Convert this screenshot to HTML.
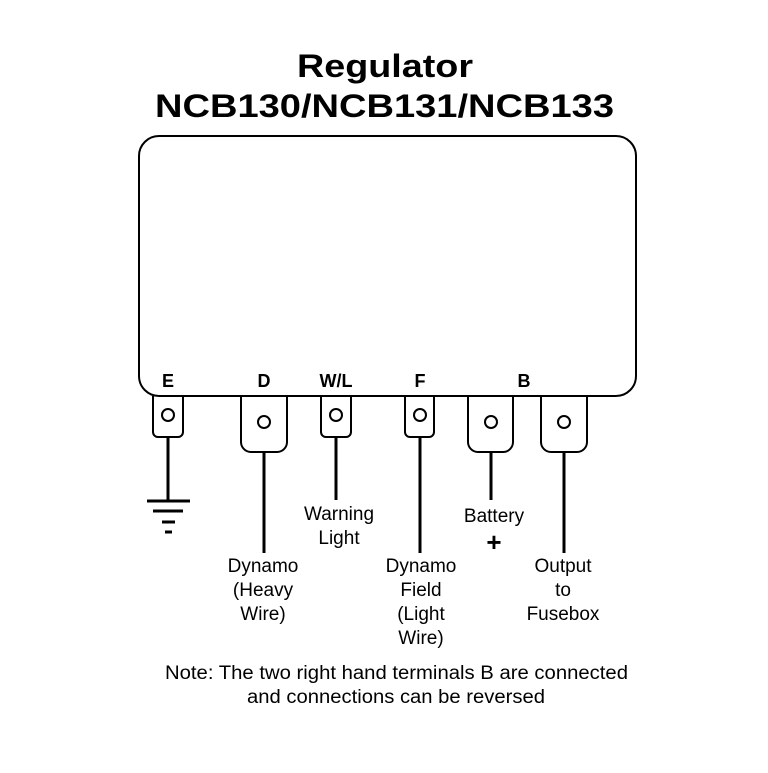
<!DOCTYPE html>
<html><head><style>body{margin:0;background:#fff}</style></head><body>
<svg width="768" height="768" viewBox="0 0 768 768" xmlns="http://www.w3.org/2000/svg" font-family="Liberation Sans, sans-serif">
<rect width="768" height="768" fill="#fff"/>
<text x="297" y="77" font-size="32" font-weight="bold" textLength="176" lengthAdjust="spacingAndGlyphs">Regulator</text>
<text x="155" y="117" font-size="32" font-weight="bold" textLength="459" lengthAdjust="spacingAndGlyphs">NCB130/NCB131/NCB133</text>
<g fill="none" stroke="#000" stroke-width="2">
<rect x="139" y="136" width="497" height="260" rx="20"/>
<path d="M153 396V432a5 5 0 0 0 5 5H178a5 5 0 0 0 5-5V396"/>
<path d="M241 396V442a10 10 0 0 0 10 10H277a10 10 0 0 0 10-10V396"/>
<path d="M321 396V432a5 5 0 0 0 5 5H346a5 5 0 0 0 5-5V396"/>
<path d="M405 396V432a5 5 0 0 0 5 5H429a5 5 0 0 0 5-5V396"/>
<path d="M468 396V442a10 10 0 0 0 10 10H503a10 10 0 0 0 10-10V396"/>
<path d="M541 396V442a10 10 0 0 0 10 10H577a10 10 0 0 0 10-10V396"/>
<circle cx="168" cy="415" r="6"/><circle cx="264" cy="422" r="6"/><circle cx="336" cy="415" r="6"/>
<circle cx="420" cy="415" r="6"/><circle cx="491" cy="422" r="6"/><circle cx="564" cy="422" r="6"/>
</g>
<g stroke="#000" stroke-width="3">
<line x1="168" y1="437" x2="168" y2="501"/>
<line x1="147" y1="501" x2="190" y2="501"/>
<line x1="153" y1="511" x2="183" y2="511"/>
<line x1="162" y1="522" x2="175" y2="522"/>
<line x1="165" y1="532" x2="172" y2="532"/>
<line x1="264" y1="452" x2="264" y2="553"/>
<line x1="336" y1="437" x2="336" y2="500"/>
<line x1="420" y1="437" x2="420" y2="553"/>
<line x1="491" y1="452" x2="491" y2="500"/>
<line x1="564" y1="453" x2="564" y2="553"/>
</g>
<g font-size="18" font-weight="bold" text-anchor="middle">
<text x="168" y="387">E</text><text x="264" y="387">D</text><text x="336" y="387">W/L</text>
<text x="420" y="387">F</text><text x="524" y="387">B</text>
</g>
<g font-size="19" text-anchor="middle">
<text x="339" y="520">Warning</text><text x="339" y="544">Light</text>
<text x="494" y="522">Battery</text>
<text x="494" y="551" font-size="26" font-weight="bold">+</text>
<text x="263" y="572">Dynamo</text><text x="263" y="596">(Heavy</text><text x="263" y="620">Wire)</text>
<text x="421" y="572">Dynamo</text><text x="421" y="596">Field</text><text x="421" y="620">(Light</text><text x="421" y="644">Wire)</text>
<text x="563" y="572">Output</text><text x="563" y="596">to</text><text x="563" y="620">Fusebox</text>
<text x="165" y="679" text-anchor="start" textLength="463" lengthAdjust="spacingAndGlyphs">Note: The two right hand terminals B are connected</text>
<text x="247" y="703" text-anchor="start" textLength="298" lengthAdjust="spacingAndGlyphs">and connections can be reversed</text>
</g>
</svg>
</body></html>
